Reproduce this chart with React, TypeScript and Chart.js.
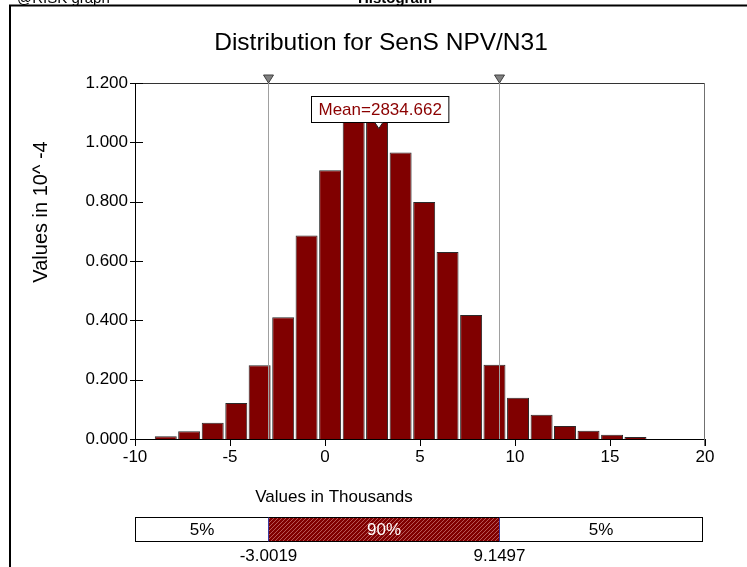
import React, { useEffect, useRef } from "react";
import { Chart, registerables } from "chart.js";

Chart.register(...registerables);

// ---- data (values in thousands / density in 10^-4) ----
const binCenters = [-8.38, -7.15, -5.91, -4.67, -3.44, -2.2, -0.97, 0.27, 1.51, 2.74, 3.98, 5.22, 6.45, 7.69, 8.92, 10.16, 11.4, 12.63, 13.87, 15.11, 16.34];
const densities = [0.009, 0.026, 0.055, 0.121, 0.249, 0.41, 0.686, 0.906, 1.12, 1.11, 0.966, 0.799, 0.63, 0.418, 0.25, 0.139, 0.082, 0.044, 0.028, 0.014, 0.007];
const xTickValues = [-10, -5, 0, 5, 10, 15, 20];
const yTickValues = [0, 0.2, 0.4, 0.6, 0.8, 1.0, 1.2];
const p5 = -3.0019;
const p95 = 9.1497;
const meanValue = 2.834662;
const meanLabel = "Mean=2834.662";
const bandLabels = ["5%", "90%", "5%"];
const percentileLabels = ["-3.0019", "9.1497"];
const headerLeft = "@RISK graph";
const headerCenter = "Histogram";
const titleText = "Distribution for SenS NPV/N31";
const yTitleText = "Values in 10^ -4";
const xTitleText = "Values in Thousands";

const W = 747;
const H = 567;
const FONT = '"Liberation Sans", Arial, Helvetica, sans-serif';
const BAR_RED = "#800000";

function makeHatch(ctx: CanvasRenderingContext2D) {
  const c = document.createElement("canvas");
  c.width = 4;
  c.height = 4;
  const g = c.getContext("2d")!;
  g.fillStyle = BAR_RED;
  g.fillRect(0, 0, 4, 4);
  g.strokeStyle = "rgba(255,200,200,0.55)";
  g.lineWidth = 0.8;
  g.beginPath();
  g.moveTo(-1, 5);
  g.lineTo(5, -1);
  g.moveTo(-1, 1);
  g.lineTo(1, -1);
  g.moveTo(3, 5);
  g.lineTo(5, 3);
  g.stroke();
  return ctx.createPattern(c, "repeat")!;
}

const overlayPlugin = {
  id: "riskOverlay",
  beforeDraw(chart: any) {
    const ctx: CanvasRenderingContext2D = chart.ctx;
    ctx.save();
    ctx.fillStyle = "#fff";
    ctx.fillRect(0, 0, W, H);
    // header (cut off at top)
    ctx.fillStyle = "#000";
    ctx.textBaseline = "alphabetic";
    ctx.textAlign = "left";
    ctx.font = `15px ${FONT}`;
    ctx.fillText(headerLeft, 17, 3);
    ctx.font = `bold 15px ${FONT}`;
    ctx.textAlign = "center";
    ctx.fillText(headerCenter, 395, 3);
    // frame
    ctx.strokeStyle = "#000";
    ctx.lineWidth = 2;
    ctx.strokeRect(10, 5.5, 900, 900);
    // title
    ctx.font = `24.5px ${FONT}`;
    ctx.textAlign = "center";
    ctx.textBaseline = "middle";
    ctx.fillText(titleText, 381, 43);
    // y title
    ctx.save();
    ctx.translate(41, 212);
    ctx.rotate(-Math.PI / 2);
    ctx.font = `20px ${FONT}`;
    ctx.fillText(yTitleText, 0, 0);
    ctx.restore();
    ctx.restore();
  },
  afterDatasetsDraw(chart: any) {
    const ctx: CanvasRenderingContext2D = chart.ctx;
    const xs = chart.scales.x;
    const ys = chart.scales.y;
    const area = chart.chartArea;
    ctx.save();
    // plot frame top / right
    ctx.lineWidth = 1;
    ctx.strokeStyle = "#333";
    ctx.beginPath();
    ctx.moveTo(area.left, Math.round(area.top) + 0.5);
    ctx.lineTo(area.right, Math.round(area.top) + 0.5);
    ctx.stroke();
    ctx.strokeStyle = "#707070";
    ctx.beginPath();
    ctx.moveTo(Math.round(area.right) - 0.5, area.top);
    ctx.lineTo(Math.round(area.right) - 0.5, area.bottom + 7);
    ctx.stroke();

    // y tick marks (crossing the axis)
    ctx.strokeStyle = "#000";
    yTickValues.forEach((v) => {
      const y = Math.round(ys.getPixelForValue(v)) + 0.5;
      ctx.beginPath();
      ctx.moveTo(area.left - 5, y);
      ctx.lineTo(area.left + 8, y);
      ctx.stroke();
    });
    // x tick marks
    xTickValues.forEach((v) => {
      const x = Math.round(xs.getPixelForValue(v)) + 0.5;
      ctx.beginPath();
      ctx.moveTo(x, area.bottom);
      ctx.lineTo(x, area.bottom + 7);
      ctx.stroke();
    });

    // percentile lines + markers
    [p5, p95].forEach((v) => {
      const x = Math.round(xs.getPixelForValue(v)) + 0.5;
      ctx.strokeStyle = "#a0a0a0";
      ctx.lineWidth = 1;
      ctx.beginPath();
      ctx.moveTo(x, area.top);
      ctx.lineTo(x, area.bottom);
      ctx.stroke();
      ctx.fillStyle = "#808080";
      ctx.strokeStyle = "#404040";
      ctx.beginPath();
      ctx.moveTo(x - 5, area.top - 8);
      ctx.lineTo(x + 5, area.top - 8);
      ctx.lineTo(x, area.top);
      ctx.closePath();
      ctx.fill();
      ctx.stroke();
    });

    // mean label
    const mx = xs.getPixelForValue(meanValue);
    ctx.font = `17px ${FONT}`;
    const tw = ctx.measureText(meanLabel).width;
    const bw = tw + 14;
    const bx = Math.round(mx - bw / 2 + 1) + 0.5;
    const by = 96.5;
    const bh = 26;
    ctx.fillStyle = "#fff";
    ctx.fillRect(bx, by, bw, bh);
    ctx.strokeStyle = "#000";
    ctx.strokeRect(bx, by, bw, bh);
    ctx.fillStyle = "#8b0000";
    ctx.textAlign = "center";
    ctx.textBaseline = "middle";
    ctx.fillText(meanLabel, bx + bw / 2, by + bh / 2 + 1);
    // mean marker
    ctx.fillStyle = "#fff";
    ctx.strokeStyle = "#222";
    ctx.beginPath();
    ctx.moveTo(mx - 4, by + bh);
    ctx.lineTo(mx + 4, by + bh);
    ctx.lineTo(mx, by + bh + 6);
    ctx.closePath();
    ctx.fill();
    ctx.stroke();
    ctx.restore();
  },
  afterDraw(chart: any) {
    const ctx: CanvasRenderingContext2D = chart.ctx;
    const xs = chart.scales.x;
    const area = chart.chartArea;
    ctx.save();
    // x title
    ctx.fillStyle = "#000";
    ctx.font = `17px ${FONT}`;
    ctx.textAlign = "center";
    ctx.textBaseline = "middle";
    ctx.fillText(xTitleText, 334, 497);

    // percentile band
    const left = Math.round(area.left) + 0.5;
    const right = Math.round(area.right) - 2.5;
    const top = 517.5;
    const h = 24;
    const x5 = Math.round(xs.getPixelForValue(p5)) + 0.5;
    const x95 = Math.round(xs.getPixelForValue(p95)) + 0.5;
    ctx.fillStyle = "#fff";
    ctx.fillRect(left, top, right - left, h);
    ctx.fillStyle = makeHatch(ctx);
    ctx.fillRect(x5, top, x95 - x5, h);
    ctx.strokeStyle = "#000";
    ctx.lineWidth = 1;
    ctx.strokeRect(left, top, right - left, h);
    ctx.strokeStyle = "#3a3aa0";
    [x5, x95].forEach((x) => {
      ctx.beginPath();
      ctx.moveTo(x, top);
      ctx.lineTo(x, top + h);
      ctx.stroke();
    });
    ctx.font = `17px ${FONT}`;
    ctx.fillStyle = "#000";
    ctx.fillText(bandLabels[0], (left + x5) / 2, top + h / 2 + 1);
    ctx.fillStyle = "#fff";
    ctx.fillText(bandLabels[1], (x5 + x95) / 2, top + h / 2 + 1);
    ctx.fillStyle = "#000";
    ctx.fillText(bandLabels[2], (x95 + right) / 2, top + h / 2 + 1);
    ctx.fillText(percentileLabels[0], x5, 556);
    ctx.fillText(percentileLabels[1], x95, 556);
    ctx.restore();
  },
};

export default function App() {
  const canvasRef = useRef<HTMLCanvasElement | null>(null);

  useEffect(() => {
    if (!canvasRef.current) return;
    const chart = new Chart(canvasRef.current, {
      type: "bar",
      data: {
        datasets: [
          {
            data: binCenters.map((x, i) => ({ x, y: densities[i] })),
            backgroundColor: BAR_RED,
            borderColor: "#2a2a2a",
            borderWidth: 1,
            barPercentage: 0.94,
            categoryPercentage: 1,
          },
        ],
      },
      options: {
        responsive: false,
        devicePixelRatio: 1,
        animation: false,
        events: [],
        layout: { padding: { left: 0, right: 42, top: 83, bottom: 0 } },
        plugins: {
          legend: { display: false },
          tooltip: { enabled: false },
          title: { display: false },
        },
        scales: {
          x: {
            type: "linear",
            offset: false,
            min: -10,
            max: 20,
            afterFit: (s: any) => {
              s.height = 128;
            },
            afterBuildTicks: (s: any) => {
              s.ticks = xTickValues.map((v) => ({ value: v }));
            },
            grid: { display: false, drawTicks: false },
            border: { display: true, color: "#000", width: 1 },
            ticks: {
              padding: 8,
              color: "#000",
              font: { family: FONT, size: 17 },
              maxRotation: 0,
              autoSkip: false,
              callback: (v: any) => String(v),
            },
          },
          y: {
            type: "linear",
            min: 0,
            max: 1.2,
            afterFit: (s: any) => {
              s.width = 135;
            },
            afterBuildTicks: (s: any) => {
              s.ticks = yTickValues.map((v) => ({ value: v }));
            },
            grid: { display: false, drawTicks: false },
            border: { display: true, color: "#000", width: 1 },
            ticks: {
              padding: 7,
              color: "#000",
              font: { family: FONT, size: 17 },
              autoSkip: false,
              callback: (v: any) => Number(v).toFixed(3),
            },
          },
        },
      } as any,
      plugins: [overlayPlugin],
    });
    return () => chart.destroy();
  }, []);

  return (
    <div style={{ position: "absolute", left: 0, top: 0, width: W, height: H, background: "#fff" }}>
      <canvas ref={canvasRef} width={W} height={H} style={{ display: "block", width: W, height: H }} />
    </div>
  );
}
